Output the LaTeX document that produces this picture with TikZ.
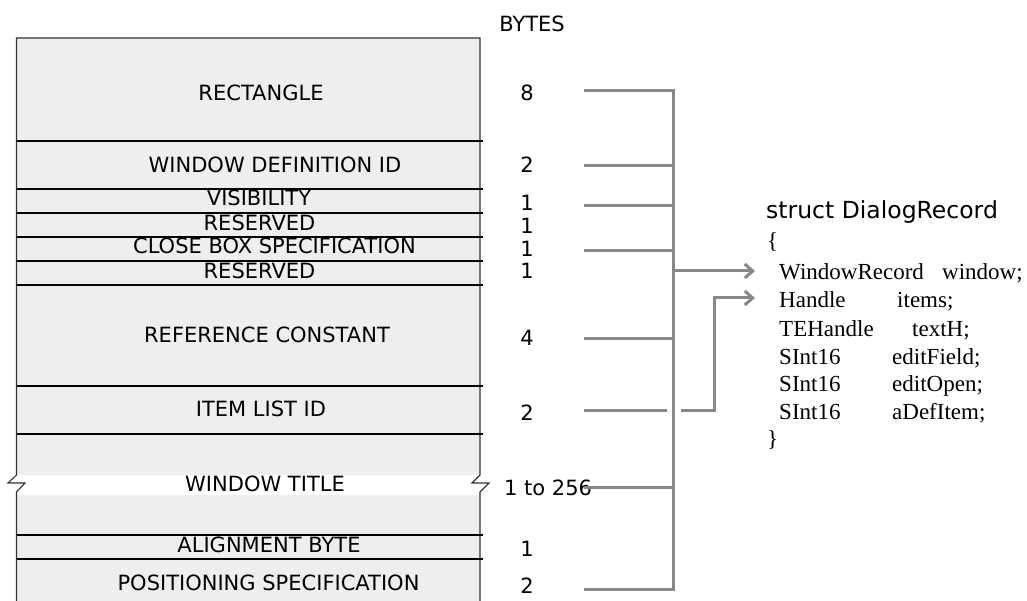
\documentclass[tikz,border=0pt]{standalone}
\usepackage{fontspec}
\usetikzlibrary{arrows.meta}
\newfontfamily\labelfont{DejaVu Sans}
\newfontfamily\codefont{Liberation Serif}
\definecolor{cellgray}{HTML}{EEEEEE}
\definecolor{edgegray}{HTML}{333333}
\definecolor{wiregray}{HTML}{888888}
\tikzset{
  field/.style={inner sep=0pt, anchor=base, font=\labelfont\fontsize{21}{25}\selectfont},
  count/.style={inner sep=0pt, anchor=base, font=\labelfont\fontsize{21}{25}\selectfont},
  head/.style={inner sep=0pt, anchor=base west, font=\labelfont\fontsize{23.5}{28}\selectfont},
  code/.style={inner sep=0pt, anchor=base west, font=\codefont\fontsize{23}{28}\selectfont},
  divider/.style={line width=2.2pt, black},
  boxedge/.style={line width=1.1pt, edgegray},
  wire/.style={line width=3pt, wiregray},
  wirearrow/.style={wire, -{Straight Barb[length=8pt,width=14pt]}},
}
\begin{document}
\begin{tikzpicture}[x=1pt,y=-1pt]
\useasboundingbox (0,0) rectangle (1027,601);

% record body
\fill[cellgray] (16.5,38) rectangle (480,601);
\fill[white] (15,475) rectangle (482,495);
\draw[boxedge] (16.5,601) -- (16.5,492) -- (25,483) -- (8,483) -- (16.5,475)
  -- (16.5,38) -- (480,38) -- (480,475) -- (472,483) -- (489,483) -- (480,492) -- (480,601);
\foreach \y in {141,189,213,237,261,285,386,434,535,559}
  \draw[divider] (16.5,\y) -- (483,\y);

% field names
\node[field] (f-rect)  at (261,100.7) {RECTANGLE};
\node[field] (f-wdef)  at (275,172.7) {WINDOW DEFINITION ID};
\node[field] (f-vis)   at (259,206)   {VISIBILITY};
\node[field] (f-res1)  at (259.5,230.7) {RESERVED};
\node[field] (f-close) at (274.5,254) {CLOSE BOX SPECIFICATION};
\node[field] (f-res2)  at (259.5,278.3) {RESERVED};
\node[field] (f-ref)   at (267,342.3) {REFERENCE CONSTANT};
\node[field] (f-item)  at (261,416.7) {ITEM LIST ID};
\node[field] (f-title) at (265,491.7) {WINDOW TITLE};
\node[field] (f-align) at (269,552.7) {ALIGNMENT BYTE};
\node[field] (f-pos)   at (268.5,590.7) {POSITIONING SPECIFICATION};

% byte counts
\node[count] (bytes) at (532,32) {BYTES};
\node[count] (c-rect)  at (527,100.7) {8};
\node[count] (c-wdef)  at (527,172.5) {2};
\node[count] (c-vis)   at (527,210.3) {1};
\node[count] (c-res1)  at (527,233.5) {1};
\node[count] (c-close) at (527,256.5) {1};
\node[count] (c-res2)  at (527,278.5) {1};
\node[count] (c-ref)   at (527,345.5) {4};
\node[count] (c-item)  at (527,420.3) {2};
\node[count, anchor=base west] (c-title) at (504,495.3) {1 to 256};
\node[count] (c-align) at (527,556.5) {1};
\node[count] (c-pos)   at (527,593.3) {2};

% structure declaration
\node[head] (s-head) at (766,219) {struct DialogRecord};
\node[code] (s-open) at (767,249) {\{};
\node[code] (t1) at (779,280) {WindowRecord};
\node[code] (v1) at (942,280) {window;};
\node[code] (t2) at (779,308) {Handle};
\node[code] (v2) at (897,308) {items;};
\node[code] (t3) at (779,336) {TEHandle};
\node[code] (v3) at (912,336) {textH;};
\node[code] (t4) at (779,364) {SInt16};
\node[code] (v4) at (892,364) {editField;};
\node[code] (t5) at (779,391.5) {SInt16};
\node[code] (v5) at (892,391.5) {editOpen;};
\node[code] (t6) at (779,419.5) {SInt16};
\node[code] (v6) at (892,419.5) {aDefItem;};
\node[code] (s-close) at (767,446) {\}};

% wiring points
\coordinate (w-rect)  at (584,91);
\coordinate (w-wdef)  at (584,165.5);
\coordinate (w-vis)   at (584,205.3);
\coordinate (w-close) at (584,250.3);
\coordinate (w-ref)   at (584,338);
\coordinate (w-item)  at (584,410);
\coordinate (w-title) at (584,487);
\coordinate (w-pos)   at (584,589);
\coordinate (bus-top) at (673,91);
\coordinate (bus-bot) at (673,589);
\coordinate (bus-out) at (673,271);
\coordinate (hop-l)   at (667,410);
\coordinate (hop-r)   at (681,410);
\coordinate (item-up) at (714,410);
\coordinate (tip1)    at (755,271);
\coordinate (tip2)    at (755,298);

% collected fields feed the window record
\draw[wire] (w-rect) -- (bus-top) -- (bus-bot) -- (w-pos);
\foreach \w in {w-wdef,w-vis,w-close,w-ref,w-title}
  \draw[wire] (\w) -- (\w -| bus-top);
\draw[wirearrow] (bus-out) -- (tip1);

% item list id feeds the items handle, hopping over the bus
\draw[wire] (w-item) -- (hop-l);
\draw[wirearrow] (hop-r) -- (item-up) -- (item-up |- tip2) -- (tip2);
\end{tikzpicture}
\end{document}
